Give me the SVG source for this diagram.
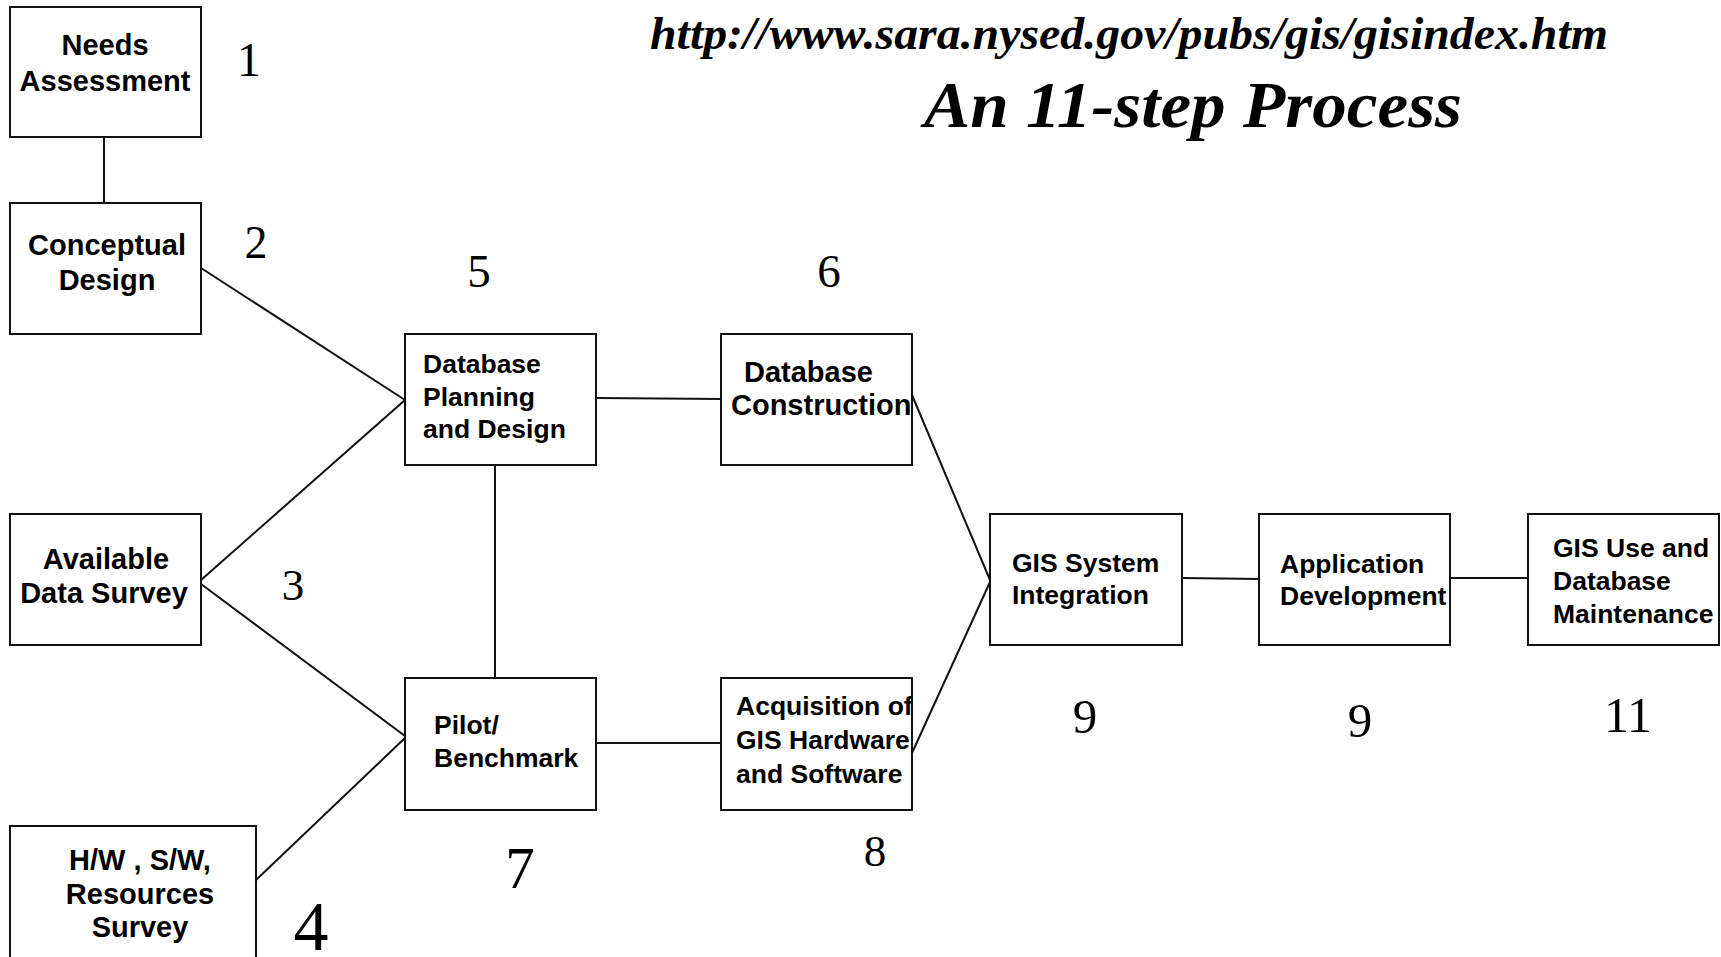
<svg xmlns="http://www.w3.org/2000/svg" width="1721" height="957" viewBox="0 0 1721 957">
  <style>
    .box { fill: #ffffff; stroke: #111111; stroke-width: 2; }
    .edge { stroke: #111111; stroke-width: 2; fill: none; }
    .lbl { font-family: "Liberation Sans", Arial, sans-serif; font-weight: bold; fill: #000000; }
    .l28 { font-size: 29px; }
    .l26 { font-size: 26.5px; }
    .mid { text-anchor: middle; }
    .num { font-family: "Liberation Serif", "Times New Roman", serif; fill: #000000; text-anchor: middle; }
    .head { font-family: "Liberation Serif", "Times New Roman", serif; font-weight: bold; font-style: italic; fill: #000000; }
  </style>
  <rect width="1721" height="957" fill="#ffffff"/>

  <!-- heading -->
  <g id="heading">
    <text class="head" x="650" y="49" font-size="46" textLength="958" lengthAdjust="spacingAndGlyphs">http://www.sara.nysed.gov/pubs/gis/gisindex.htm</text>
    <text class="head" x="924" y="127" font-size="66" textLength="538" lengthAdjust="spacingAndGlyphs">An 11-step Process</text>
  </g>

  <!-- connectors -->
  <g id="connectors">
    <line class="edge" x1="104" y1="137" x2="104" y2="203"/>
    <line class="edge" x1="201" y1="268" x2="405" y2="400"/>
    <line class="edge" x1="201" y1="580" x2="405" y2="400"/>
    <line class="edge" x1="201" y1="584" x2="405" y2="736"/>
    <line class="edge" x1="256" y1="880" x2="405" y2="738"/>
    <line class="edge" x1="495" y1="465" x2="495" y2="678"/>
    <line class="edge" x1="596" y1="398" x2="723" y2="399"/>
    <line class="edge" x1="596" y1="743" x2="721" y2="743"/>
    <line class="edge" x1="912" y1="395" x2="990" y2="580"/>
    <line class="edge" x1="912" y1="753" x2="990" y2="582"/>
    <line class="edge" x1="1182" y1="578" x2="1261" y2="579"/>
    <line class="edge" x1="1449" y1="578" x2="1528" y2="578"/>
  </g>

  <g id="n1">
    <rect class="box" x="10" y="7" width="191" height="130"/>
    <text class="lbl l28 mid" x="105" y="55">Needs</text>
    <text class="lbl l28 mid" x="105" y="91">Assessment</text>
    <text class="num" x="249" y="76" font-size="48">1</text>
  </g>

  <g id="n2">
    <rect class="box" x="10" y="203" width="191" height="131"/>
    <text class="lbl l28 mid" x="107" y="255">Conceptual</text>
    <text class="lbl l28 mid" x="107" y="290">Design</text>
    <text class="num" x="256" y="258" font-size="46">2</text>
  </g>

  <g id="n3">
    <rect class="box" x="10" y="514" width="191" height="131"/>
    <text class="lbl l28 mid" x="106" y="569">Available</text>
    <text class="lbl l28 mid" x="104" y="603">Data Survey</text>
    <text class="num" x="293" y="600" font-size="45">3</text>
  </g>

  <g id="n4">
    <rect class="box" x="10" y="826" width="246" height="140"/>
    <text class="lbl l28 mid" x="140" y="870">H/W , S/W,</text>
    <text class="lbl l28 mid" x="140" y="904">Resources</text>
    <text class="lbl l28 mid" x="140" y="937">Survey</text>
    <text class="num" x="311" y="950" font-size="70">4</text>
  </g>

  <g id="n5">
    <rect class="box" x="405" y="334" width="191" height="131"/>
    <text class="lbl l26" x="423" y="373">Database</text>
    <text class="lbl l26" x="423" y="406">Planning</text>
    <text class="lbl l26" x="423" y="438">and Design</text>
    <text class="num" x="479" y="287" font-size="47">5</text>
  </g>

  <g id="n6">
    <rect class="box" x="721" y="334" width="191" height="131"/>
    <text class="lbl l28" x="744" y="382">Database</text>
    <text class="lbl l28" x="731" y="415">Construction</text>
    <text class="num" x="829" y="287" font-size="47">6</text>
  </g>

  <g id="n7">
    <rect class="box" x="405" y="678" width="191" height="132"/>
    <text class="lbl l26" x="434" y="734">Pilot/</text>
    <text class="lbl l26" x="434" y="767">Benchmark</text>
    <text class="num" x="520" y="888" font-size="59">7</text>
  </g>

  <g id="n8">
    <rect class="box" x="721" y="678" width="191" height="132"/>
    <text class="lbl l26" x="736" y="715">Acquisition of</text>
    <text class="lbl l26" x="736" y="749">GIS Hardware</text>
    <text class="lbl l26" x="736" y="783">and Software</text>
    <text class="num" x="875" y="866" font-size="45">8</text>
  </g>

  <g id="n9a">
    <rect class="box" x="990" y="514" width="192" height="131"/>
    <text class="lbl l26" x="1012" y="572">GIS System</text>
    <text class="lbl l26" x="1012" y="604">Integration</text>
    <text class="num" x="1085" y="733" font-size="49">9</text>
  </g>

  <g id="n9b">
    <rect class="box" x="1259" y="514" width="191" height="131"/>
    <text class="lbl l26" x="1280" y="573">Application</text>
    <text class="lbl l26" x="1280" y="605">Development</text>
    <text class="num" x="1360" y="737" font-size="49">9</text>
  </g>

  <g id="n11">
    <rect class="box" x="1528" y="514" width="191" height="131"/>
    <text class="lbl l26" x="1553" y="557">GIS Use and</text>
    <text class="lbl l26" x="1553" y="590">Database</text>
    <text class="lbl l26" x="1553" y="623">Maintenance</text>
    <text class="num" x="1628" y="732" font-size="50">11</text>
  </g>
</svg>
